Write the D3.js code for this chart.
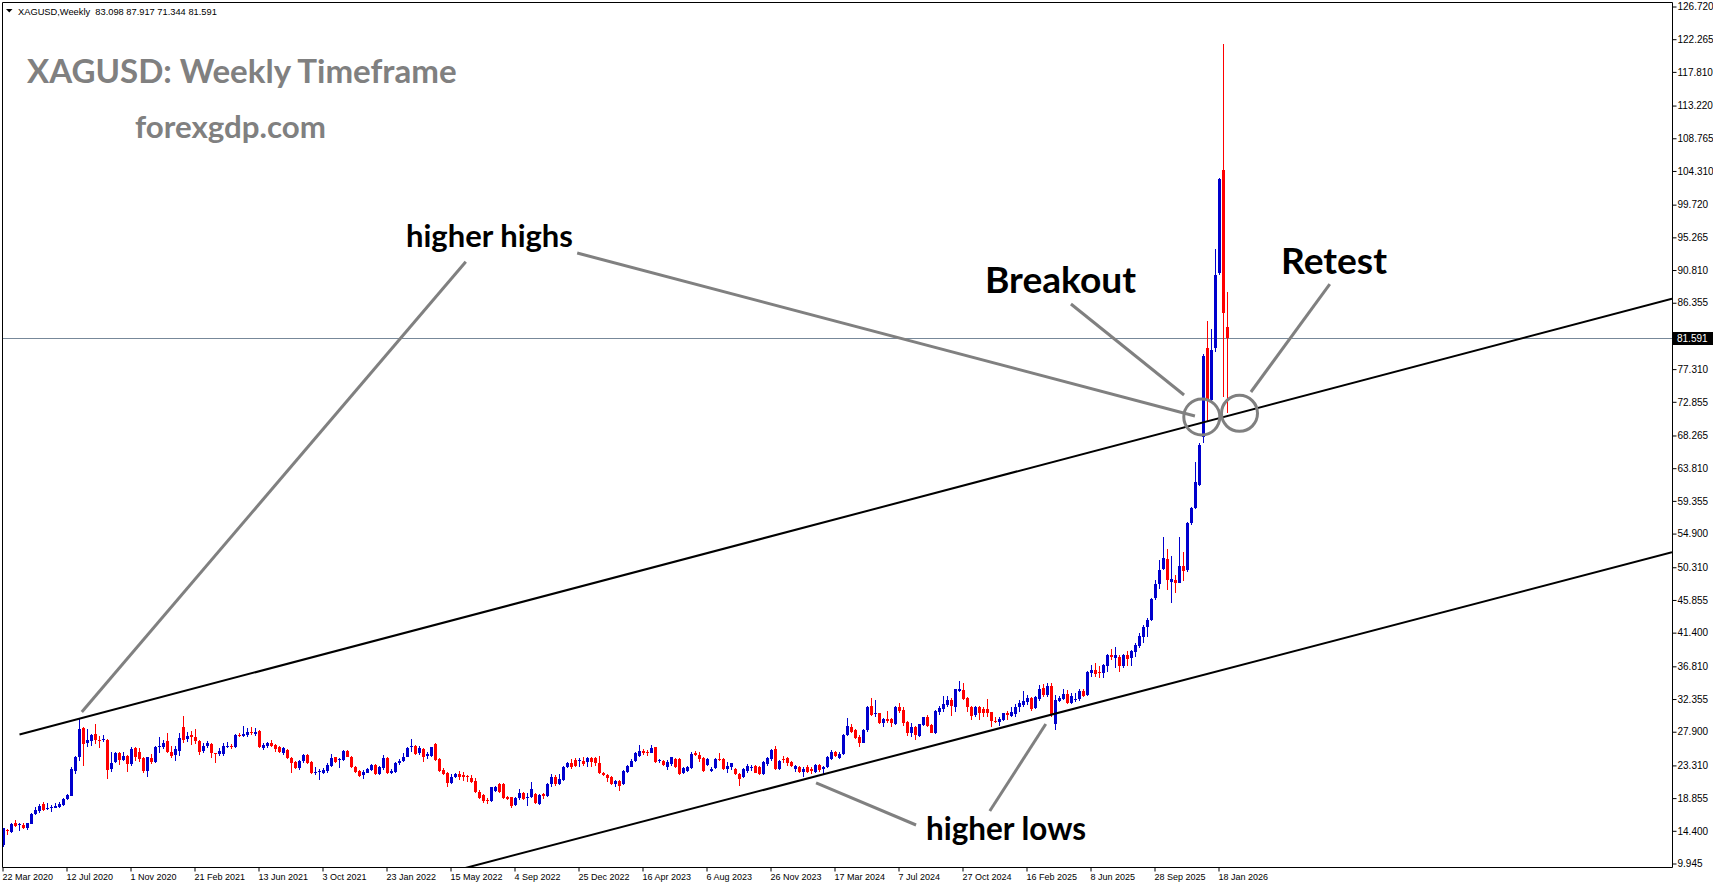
<!DOCTYPE html>
<html>
<head>
<meta charset="utf-8">
<script src="https://cdn.jsdelivr.net/npm/d3@7/dist/d3.min.js"></script>
<style>
html,body{margin:0;padding:0;background:#ffffff;overflow:hidden;}
svg{display:block;}
</style>
</head>
<body>
<svg id="chart" width="1713" height="888"></svg>
<script>
// ---------------- DATA ----------------
const symbolHeader = "XAGUSD,Weekly  83.098 87.917 71.344 81.591";
const titleText = "XAGUSD: Weekly Timeframe";
const siteText = "forexgdp.com";
const firstWeek = "2020-03-22";
const lastPrice = 81.591;

const opens = [
12.54,14.58,14.36,15.58,15.22,15.26,14.81,15.40,16.76,17.22,
18.12,17.49,17.53,17.62,17.76,17.99,18.76,19.21,22.66,24.57,
28.43,26.48,26.70,27.61,26.89,26.80,26.84,22.85,23.89,25.02,
24.12,24.66,23.57,25.75,25.25,24.34,22.66,24.34,23.89,25.84,
25.84,26.70,25.25,24.80,25.39,28.57,26.93,27.48,27.30,26.75,
25.39,26.02,26.30,25.11,24.93,24.93,25.89,26.02,25.84,27.57,
27.39,27.52,27.93,27.66,28.11,25.71,26.02,26.48,26.16,25.84,
25.02,25.48,24.34,23.89,22.98,24.03,24.80,23.89,22.30,22.44,
22.39,22.66,23.30,24.48,24.12,24.12,25.39,24.57,23.12,22.62,
22.07,22.39,22.75,23.44,22.21,22.98,24.34,22.39,22.53,23.66,
24.03,24.57,25.84,26.02,25.02,25.57,24.71,24.66,26.30,24.21,
22.75,22.39,21.03,21.75,22.21,22.03,21.93,21.71,21.25,19.80,
19.35,18.67,18.57,19.94,20.84,20.84,19.12,19.03,17.98,18.89,
19.57,18.94,19.03,19.48,18.12,19.44,19.21,20.84,21.75,20.84,
21.39,23.12,23.75,24.11,23.93,24.02,23.89,24.34,24.34,23.75,
22.39,22.07,21.84,20.84,21.30,20.84,22.53,23.21,24.02,24.66,
25.38,25.20,25.11,25.84,23.93,24.02,23.21,23.57,24.20,24.20,
22.39,22.66,22.98,25.11,24.80,24.34,23.43,22.66,22.98,24.29,
24.20,22.84,23.12,22.84,22.21,21.75,22.66,23.02,23.30,23.12,
22.21,23.57,24.20,25.57,22.84,24.29,24.34,23.89,22.84,23.21,
22.53,23.12,22.84,22.53,23.43,22.84,23.12,24.20,25.25,24.34,
24.93,27.52,28.66,28.20,27.29,26.48,28.20,31.47,30.33,30.47,
29.11,29.65,29.65,29.02,31.29,30.93,29.34,27.84,28.66,27.38,
28.88,30.02,28.88,27.75,30.66,31.02,31.61,32.29,31.29,33.51,
33.65,32.51,31.38,30.25,31.29,31.02,31.02,30.70,29.47,29.29,
29.56,30.47,30.11,30.38,31.29,31.61,32.06,32.61,31.16,32.38,
33.97,32.97,34.20,29.00,32.20,32.38,33.10,31.93,32.24,32.38,
33.56,32.97,36.01,36.38,36.15,36.01,36.92,38.42,38.06,38.19,
36.92,38.37,37.97,38.87,39.65,40.92,42.19,43.19,46.14,48.09,
50.14,51.45,48.41,48.64,48.27,50.55,50.00,56.36,58.40,61.58,
68.17,80.21,73.17,80.21,90.43,104.51,83.098];

const highs = [
14.90,14.70,15.58,15.94,15.58,15.58,15.58,16.85,17.76,18.08,
18.40,18.21,17.99,18.30,18.44,18.89,19.49,23.21,24.66,29.65,
28.57,28.29,27.66,29.02,27.39,27.52,26.93,25.25,25.25,25.25,
25.25,24.80,25.84,25.93,25.71,24.57,24.57,24.93,26.02,27.29,
26.84,27.84,26.02,26.02,27.84,30.11,27.98,28.11,28.29,26.84,
26.48,26.75,26.39,25.11,25.71,26.39,26.61,26.30,27.66,27.84,
28.75,28.43,28.57,28.43,28.20,26.48,26.61,26.84,26.30,26.02,
25.84,25.57,24.48,24.03,24.12,24.93,24.93,24.03,23.21,22.85,
22.98,23.66,24.93,24.57,24.34,25.48,25.48,24.66,23.30,22.75,
22.75,22.98,23.57,23.53,23.30,24.80,24.48,22.85,23.89,24.21,
25.02,25.84,26.98,26.16,26.02,25.71,25.25,25.93,26.39,24.34,
22.98,22.53,22.21,22.39,22.66,22.53,22.07,22.07,21.62,20.03,
19.48,18.89,20.48,20.57,20.93,20.93,19.21,19.12,19.12,20.12,
19.80,19.57,21.16,19.57,19.48,19.66,20.93,22.21,22.07,22.21,
23.30,23.89,24.21,24.34,24.34,24.57,24.48,24.57,24.57,24.66,
22.53,22.21,21.93,21.39,21.39,22.75,23.43,24.20,25.25,26.16,
25.57,25.48,26.16,25.93,24.20,24.11,24.11,24.57,24.34,24.34,
23.12,23.30,25.25,25.38,25.25,24.48,24.34,23.12,24.34,25.11,
24.34,23.89,23.75,22.98,22.30,22.98,23.57,23.43,23.43,23.30,
24.02,24.48,25.57,26.02,24.11,24.66,24.48,24.02,23.43,23.30,
23.12,23.43,23.12,23.57,23.57,23.30,24.66,25.48,25.38,25.25,
27.66,29.79,29.02,28.29,27.52,28.29,31.47,32.51,32.29,30.56,
29.79,30.83,29.79,31.47,31.83,31.29,29.47,29.11,28.75,29.02,
30.02,30.25,29.02,30.93,31.47,32.83,32.83,32.51,33.74,34.92,
34.56,32.74,31.47,31.47,31.47,31.29,32.38,30.70,29.93,30.02,
30.56,30.84,31.38,31.74,32.29,33.56,32.97,32.74,32.83,34.33,
34.47,34.56,34.56,33.00,32.83,33.74,33.65,33.20,33.20,33.74,
33.74,36.24,37.06,37.38,36.92,37.15,38.51,39.19,39.56,38.37,
38.51,38.96,39.10,40.01,41.37,42.51,43.42,46.14,48.64,51.36,
54.45,52.82,51.91,49.32,54.45,52.50,56.59,58.63,64.76,67.26,
79.40,83.94,82.85,93.75,103.42,121.68,87.917];

const lows = [
12.20,13.90,14.22,15.04,14.49,14.67,14.58,15.35,16.62,16.85,
17.22,17.31,17.08,17.53,17.53,17.85,18.67,19.21,22.21,24.03,
23.30,25.93,26.02,26.30,25.70,26.61,21.48,22.53,23.66,23.44,
24.03,22.53,23.30,24.03,23.89,22.39,21.85,23.53,23.75,25.02,
25.57,25.02,24.34,24.03,24.66,26.39,26.61,26.16,26.30,24.80,
25.11,25.71,24.34,23.75,24.66,24.66,25.71,25.57,25.71,27.30,
27.20,27.20,27.52,27.39,25.71,25.48,25.71,25.84,25.25,25.02,
24.80,24.21,22.30,22.85,22.75,23.75,23.57,22.21,22.07,21.39,
22.21,22.30,23.21,23.75,22.98,24.03,24.48,22.98,22.39,21.85,
21.48,22.30,22.66,22.07,22.07,22.75,22.21,22.21,22.39,23.44,
23.89,24.48,25.25,24.80,24.80,23.89,24.21,24.57,24.03,22.53,
22.07,20.48,20.84,21.62,21.39,21.30,21.16,21.03,19.57,18.76,
18.21,18.12,18.44,19.80,19.66,18.76,18.67,17.53,17.85,18.67,
18.67,17.85,18.89,18.12,17.98,18.76,19.12,20.48,20.57,20.71,
21.30,22.98,22.84,23.12,23.21,23.30,23.12,23.12,23.30,22.21,
21.93,21.16,20.71,20.39,19.94,20.71,22.39,23.12,23.89,24.48,
24.80,24.66,25.02,23.75,23.66,23.30,22.75,23.30,22.98,22.07,
22.21,22.53,22.84,24.66,23.89,22.53,23.30,22.53,22.84,24.02,
22.75,22.30,22.75,22.07,20.57,21.62,22.39,22.66,22.30,22.07,
22.07,23.30,24.02,22.75,22.75,23.66,23.30,23.12,22.53,22.39,
21.84,22.39,22.21,22.39,22.53,22.21,22.98,24.11,24.48,24.20,
24.80,27.38,27.84,26.93,25.93,26.39,27.98,30.11,30.02,29.02,
28.65,29.11,28.65,28.88,30.47,28.75,27.38,27.29,26.84,27.29,
28.75,28.57,27.75,27.66,30.25,30.70,31.38,30.11,30.70,33.42,
32.29,30.70,29.56,30.02,29.56,30.02,30.02,28.66,29.20,28.75,
29.47,29.56,30.02,30.02,30.70,31.38,31.61,30.84,31.02,32.20,
32.74,32.74,30.02,28.20,32.06,32.29,31.74,31.74,32.06,32.20,
32.74,32.83,35.47,35.38,35.24,35.24,36.15,37.74,36.60,36.15,
36.60,36.92,36.92,38.19,39.42,40.01,40.92,43.10,45.91,47.37,
50.00,47.27,45.55,46.82,48.20,48.50,49.77,56.13,58.27,61.50,
67.26,70.30,72.95,79.76,90.20,73.62,71.344];

const closes = [
14.81,14.40,15.40,15.17,15.35,14.81,15.49,16.72,17.31,17.85,
17.31,17.62,17.76,17.90,18.12,18.76,19.35,22.85,24.48,28.29,
26.30,26.84,27.48,26.84,26.75,26.93,22.75,23.75,25.11,24.12,
24.66,23.57,25.57,24.48,24.21,22.66,24.48,23.89,25.93,26.02,
26.39,25.25,24.66,25.57,27.16,26.84,27.39,27.30,26.66,25.25,
26.02,26.48,25.02,24.93,25.39,26.02,26.02,25.89,27.52,27.43,
27.66,27.98,27.80,27.98,25.84,26.16,26.48,26.02,25.57,25.25,
25.71,24.34,23.75,22.98,24.03,24.80,23.75,22.39,22.48,22.62,
22.75,23.44,24.34,23.89,24.30,25.39,24.57,23.12,22.53,21.94,
22.53,22.85,23.44,22.21,23.12,24.34,22.39,22.66,23.75,24.03,
24.48,25.71,26.02,24.93,25.71,24.57,24.89,25.84,24.12,22.66,
22.21,21.03,21.84,22.21,21.75,21.84,21.75,21.16,19.80,18.89,
18.57,18.48,20.39,20.48,19.80,18.89,18.76,17.85,18.89,19.66,
18.76,19.12,20.12,18.21,19.35,19.26,20.84,21.75,20.84,21.53,
23.21,23.75,23.12,23.30,24.11,23.57,24.34,23.89,23.66,22.30,
22.07,21.62,20.84,21.30,20.57,22.66,23.30,24.02,25.11,25.38,
25.11,25.02,25.70,23.89,24.11,23.43,23.89,24.48,23.12,22.21,
22.98,23.12,24.93,24.80,24.20,22.66,24.20,22.84,24.20,24.11,
22.84,23.30,23.66,22.21,21.48,22.84,23.30,23.21,22.39,22.21,
23.89,24.34,25.48,22.84,24.02,24.11,23.75,23.30,23.30,22.53,
22.84,22.53,22.66,23.43,22.75,23.21,24.48,25.25,24.66,24.93,
27.52,28.75,27.98,27.07,26.48,28.20,31.38,30.24,30.52,29.11,
29.65,29.47,29.11,31.38,30.83,29.20,27.84,28.57,27.52,29.02,
29.93,28.75,27.84,30.84,31.24,31.74,32.29,31.47,33.74,33.74,
32.42,31.29,30.11,31.29,30.47,30.56,30.47,29.47,29.33,29.70,
30.47,30.25,30.70,31.38,31.84,32.20,32.61,31.02,32.74,33.78,
32.97,34.20,30.25,32.29,32.61,33.10,31.93,32.83,32.38,33.56,
32.83,36.15,36.38,35.83,36.01,37.06,38.42,38.19,38.37,36.92,
38.37,37.92,38.96,39.78,41.01,42.19,43.19,46.00,48.09,50.00,
51.59,48.64,48.73,48.27,50.55,49.91,56.45,58.50,62.04,67.03,
79.17,73.17,79.98,90.20,103.24,84.98,81.591];

const yTickLabels = ["126.720","122.265","117.810","113.220","108.765","104.310","99.720",
  "95.265","90.810","86.355","77.310","72.855","68.265","63.810","59.355","54.900",
  "50.310","45.855","41.400","36.810","32.355","27.900","23.310","18.855","14.400","9.945"];
const yDomain = [9.945, 126.72];

const xTickLabels = ["22 Mar 2020","12 Jul 2020","1 Nov 2020","21 Feb 2021","13 Jun 2021",
  "3 Oct 2021","23 Jan 2022","15 May 2022","4 Sep 2022","25 Dec 2022","16 Apr 2023",
  "6 Aug 2023","26 Nov 2023","17 Mar 2024","7 Jul 2024","27 Oct 2024","16 Feb 2025",
  "8 Jun 2025","28 Sep 2025","18 Jan 2026"];

// trend channel anchors: [date, price]
const upperTrend = [["2020-04-19", 27.6], ["2026-01-25", 70.86]];
const lowerTrend = [["2022-06-12", 9.48], ["2025-03-30", 30.30]];

// annotation pointers: [[date, price], [date, price]]
const pointerLines = [
  [["2022-06-09", 92.0], ["2020-08-06", 30.65]],
  [["2022-12-21", 93.2], ["2025-12-06", 70.99]],
  [["2025-05-03", 86.25], ["2025-11-17", 73.85]],
  [["2026-07-30", 88.97], ["2026-03-14", 74.26]],
  [["2024-08-05", 15.26], ["2024-02-12", 21.0]],
  [["2024-12-12", 17.16], ["2025-03-20", 29.02]]
];
const ringCenters = [["2025-12-18", 70.85], ["2026-02-22", 71.35]];
const annotationLabels = ["higher highs", "Breakout", "Retest", "higher lows"];

// ---------------- LAYOUT / STYLE ----------------
const plot = {left: 2, top: 2, right: 1672, bottom: 867};
const bullColor = "#0000cd", bearColor = "#ff0000";
const annoGray = "#808080";
const svg = d3.select("#chart");

const parseDay = d3.utcParse("%Y-%m-%d");
const fmtTick = d3.utcFormat("%-d %b %Y");
const parseTick = d3.utcParse("%e %b %Y");
const t0 = parseDay(firstWeek);
const dates = opens.map((_, i) => d3.utcDay.offset(t0, 7 * i));
const candles = dates.map((d, i) => ({date: d, o: opens[i], h: highs[i], l: lows[i], c: closes[i]}));

const barStep = 4;
const x = d3.scaleUtc()
  .domain([dates[0], dates[dates.length - 1]])
  .range([3.5, 3.5 + barStep * (dates.length - 1)]);
const y = d3.scaleLinear().domain(yDomain).range([864, 7]);

svg.append("rect").attr("width", 1713).attr("height", 888).attr("fill", "#fff");

const defs = svg.append("defs");
defs.append("clipPath").attr("id", "plotClip").append("rect")
  .attr("x", plot.left).attr("y", plot.top)
  .attr("width", plot.right - plot.left).attr("height", plot.bottom - plot.top);

const inner = svg.append("g").attr("clip-path", "url(#plotClip)");

// current price line
inner.append("line")
  .attr("x1", plot.left).attr("x2", plot.right)
  .attr("y1", Math.round(y(lastPrice)) + 0.5).attr("y2", Math.round(y(lastPrice)) + 0.5)
  .attr("stroke", "#778899").attr("stroke-width", 1);

// candles
const cg = inner.append("g").attr("shape-rendering", "crispEdges");
cg.selectAll("line.wick").data(candles).join("line").attr("class", "wick")
  .attr("x1", d => x(d.date)).attr("x2", d => x(d.date))
  .attr("y1", d => y(d.h)).attr("y2", d => y(d.l))
  .attr("stroke", d => d.c >= d.o ? bullColor : bearColor).attr("stroke-width", 1);
cg.selectAll("rect.body").data(candles).join("rect").attr("class", "body")
  .attr("x", d => x(d.date) - 1.5).attr("width", 3)
  .attr("y", d => Math.min(y(d.o), y(d.c)))
  .attr("height", d => Math.max(1, Math.abs(y(d.o) - y(d.c))))
  .attr("fill", d => d.c >= d.o ? bullColor : bearColor);

// trend channel
function trendPath(anchors, extendLeft) {
  const p1 = [x(parseDay(anchors[0][0])), y(anchors[0][1])];
  const p2 = [x(parseDay(anchors[1][0])), y(anchors[1][1])];
  const k = (p2[1] - p1[1]) / (p2[0] - p1[0]);
  const xs = extendLeft ? plot.left : p1[0];
  const xe = plot.right;
  return [[xs, p1[1] + k * (xs - p1[0])], [xe, p1[1] + k * (xe - p1[0])]];
}
[[upperTrend, false], [lowerTrend, true]].forEach(([a, ext]) => {
  inner.append("path")
    .attr("d", d3.line()(trendPath(a, ext)))
    .attr("stroke", "#000").attr("stroke-width", 2).attr("fill", "none");
});

// annotation pointers and rings
const ag = svg.append("g");
ag.selectAll("line.ptr").data(pointerLines).join("line").attr("class", "ptr")
  .attr("x1", d => x(parseDay(d[0][0]))).attr("y1", d => y(d[0][1]))
  .attr("x2", d => x(parseDay(d[1][0]))).attr("y2", d => y(d[1][1]))
  .attr("stroke", annoGray).attr("stroke-width", 3);
ag.selectAll("circle.ring").data(ringCenters).join("circle").attr("class", "ring")
  .attr("cx", d => x(parseDay(d[0]))).attr("cy", d => y(d[1])).attr("r", 18)
  .attr("fill", "none").attr("stroke", annoGray).attr("stroke-width", 3);

// frame
svg.append("path")
  .attr("d", `M${plot.left + 0.5},${plot.bottom + 0.5}V${plot.top + 0.5}H${plot.right + 0.5}V${plot.bottom + 0.5}H${plot.left + 0.5}`)
  .attr("fill", "none").attr("stroke", "#000").attr("stroke-width", 1);

// axes
const yAxis = d3.axisRight(y)
  .tickValues(yTickLabels.map(Number))
  .tickFormat(d3.format(".3f"))
  .tickSize(4).tickPadding(1).offset(0);
const gy = svg.append("g").attr("transform", `translate(${plot.right + 0.5},0)`).call(yAxis);
gy.select(".domain").remove();
gy.selectAll("text").attr("font-family", "'Liberation Sans', Arial, sans-serif").attr("font-size", 10).attr("fill", "#000");
gy.selectAll("line").attr("stroke", "#000");

const xAxis = d3.axisBottom(x)
  .tickValues(xTickLabels.map(s => parseTick(s)))
  .tickFormat(fmtTick)
  .tickSize(4).tickPadding(2).offset(0);
const gx = svg.append("g").attr("transform", `translate(-0.5,${plot.bottom + 0.5})`).call(xAxis);
gx.select(".domain").remove();
gx.selectAll("text").attr("font-family", "'Liberation Sans', Arial, sans-serif").attr("font-size", 9)
  .attr("fill", "#000").attr("text-anchor", "start").attr("x", -0.5);
gx.selectAll("line").attr("stroke", "#000");

// price label
const py = y(lastPrice);
svg.append("rect").attr("x", plot.right + 1).attr("y", Math.round(py) - 6)
  .attr("width", 40).attr("height", 13).attr("fill", "#000");
svg.append("text").attr("x", plot.right + 5).attr("y", py).attr("dy", "0.34em")
  .attr("font-family", "'Liberation Sans', Arial, sans-serif").attr("font-size", 10)
  .attr("fill", "#fff").text(d3.format(".3f")(lastPrice));

// header
svg.append("path").attr("d", "M6,9L12.5,9L9.25,12.5Z").attr("fill", "#000");
function fit(sel, w) {
  const cur = sel.node().getComputedTextLength();
  const fs = parseFloat(sel.attr("font-size"));
  sel.attr("font-size", (fs * w / cur).toFixed(2));
  return sel;
}
fit(svg.append("text").attr("x", 18).attr("y", 14.5).attr("xml:space", "preserve")
  .style("white-space", "pre")
  .attr("font-family", "'Liberation Sans', Arial, sans-serif").attr("font-size", 10)
  .attr("fill", "#000").text(symbolHeader), 199);

const boldFont = "Lato, 'Open Sans', sans-serif";
fit(svg.append("text").attr("x", 27).attr("y", 83).attr("font-family", boldFont)
  .attr("font-weight", 700).attr("font-size", 30).attr("fill", "#808080").text(titleText), 430);
fit(svg.append("text").attr("x", 135).attr("y", 138).attr("font-family", boldFont)
  .attr("font-weight", 700).attr("font-size", 26).attr("fill", "#808080").text(siteText), 191);

const labelPos = [
  {x: 406, y: 247, w: 167},
  {x: 985, y: 293, w: 151},
  {x: 1281, y: 274, w: 106},
  {x: 926, y: 840, w: 160}
];
annotationLabels.forEach((t, i) => {
  fit(svg.append("text").attr("x", labelPos[i].x).attr("y", labelPos[i].y)
    .attr("font-family", boldFont).attr("font-weight", 700).attr("font-size", 28)
    .attr("fill", "#000").text(t), labelPos[i].w);
});
</script>
</body>
</html>
